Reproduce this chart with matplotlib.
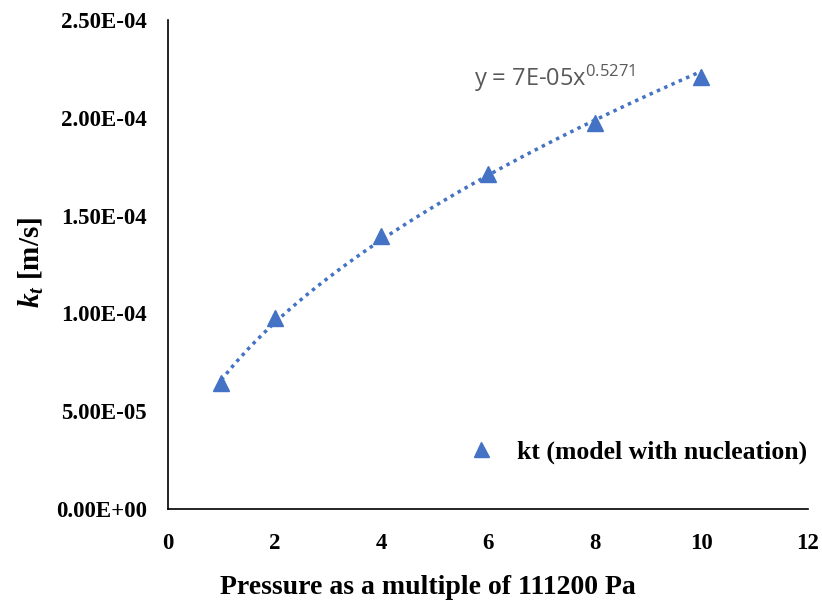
import matplotlib
matplotlib.use("Agg")
import matplotlib.pyplot as plt
import numpy as np

# pressure multiples and mass transfer coefficient values
pressure = [1, 2, 4, 6, 8, 10]
kt = [6.44e-5, 9.76e-5, 1.396e-4, 1.713e-4, 1.973e-4, 2.209e-4]
y_ticks = [0, 5e-5, 1e-4, 1.5e-4, 2e-4, 2.5e-4]
x_ticks = [0, 2, 4, 6, 8, 10, 12]

blue = "#4472C4"
serif = "Liberation Serif"

plt.rcParams["mathtext.default"] = "regular"
plt.rcParams["mathtext.fontset"] = "custom"
plt.rcParams["mathtext.it"] = "Liberation Serif:italic:bold"

fig = plt.figure(figsize=(8.22, 6.03), dpi=100)
ax = fig.add_axes([0.2044, 0.1559, 0.7786, 0.811])

# power law trendline fitted in log space
x = np.array(pressure, dtype=float)
y = np.array(kt)
b, loga = np.polyfit(np.log(x), np.log(y), 1)
xs = np.linspace(1, 10, 200)
ax.plot(xs, np.exp(loga) * xs ** b, linestyle=(0, (1, 1.3)), color=blue, lw=2.5)

ax.plot(pressure, kt, linestyle="none", marker="^", markersize=12,
        color=blue, label="kt (model with nucleation)")

ax.set_xlim(0, 12)
ax.set_ylim(0, 2.5e-4)
ax.set_xticks(x_ticks)
ax.set_yticks(y_ticks)
ax.set_xticklabels([str(t) for t in x_ticks], fontfamily=serif, fontweight="bold", fontsize=16.5)
ax.set_yticklabels([f"{t:.2E}" for t in y_ticks], fontfamily=serif, fontweight="bold", fontsize=16.5)
ax.tick_params(length=0, pad=15)
ax.tick_params(axis="x", pad=17)

for s in ["top", "right"]:
    ax.spines[s].set_visible(False)
for s in ["left", "bottom"]:
    ax.spines[s].set_linewidth(1.2)

ax.set_xlabel("Pressure as a multiple of 111200 Pa", fontfamily=serif,
              fontweight="bold", fontsize=20, labelpad=16)
ax.xaxis.set_label_coords(0.406, -0.135)
ax.set_ylabel(r"$\mathit{k_t}$ [m/s]", fontfamily=serif, fontweight="bold",
              fontsize=21, labelpad=10)
ax.yaxis.set_label_coords(-0.19, 0.505)

ax.text(0.478, 0.865, "y = 7E-05x$^{0.5271}$", transform=ax.transAxes,
        fontfamily="Open Sans", fontsize=17, color="#595959")

leg = ax.legend(loc="lower right", bbox_to_anchor=(1.035, 0.045), frameon=False,
                prop={"family": serif, "weight": "bold", "size": 18.5},
                handletextpad=0.4, markerscale=0.9)

fig.savefig("out.png", dpi=100)
